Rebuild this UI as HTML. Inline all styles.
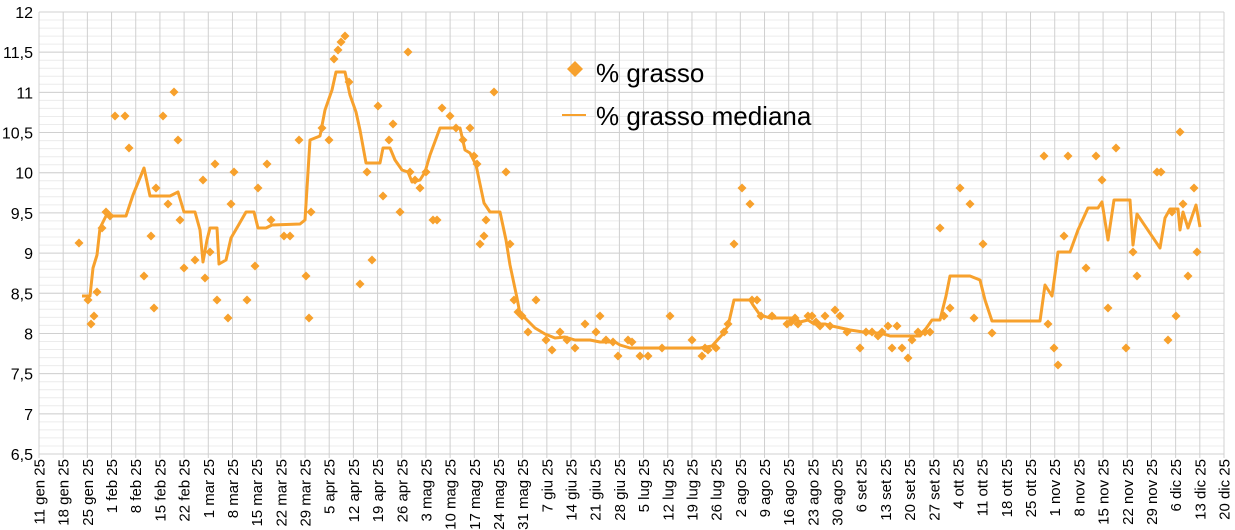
<!DOCTYPE html>
<html><head><meta charset="utf-8"><style>
html,body{margin:0;padding:0;background:#fff;}
svg{display:block;font-family:"Liberation Sans",Arial,sans-serif;}
</style></head><body>
<svg width="1235" height="530" viewBox="0 0 1235 530" xmlns="http://www.w3.org/2000/svg">
<g id="minor" stroke="#ececec" stroke-width="1"></g>
<g id="major" stroke="#d0d0d0" stroke-width="1"></g>
<g id="ylab" font-size="16" fill="#000" text-anchor="end"></g>
<g id="xlab" font-size="15" fill="#000"></g>
<polyline fill="none" stroke="#f7a12d" stroke-width="3" stroke-linejoin="round" points="82,296 90,296 93,268 97,255 100,228 106,216 112,216 126,216 133,195 144,168 150,196 160,196 170,196 178,192 184,212 195,212 200,230 203,262 207,240 210,228 217,228 219,264 226,260 231,238 238,226 246,212 254,212 258,228 266,228 272,225 300,224 305,220 310,140 320,136 325,110 332,90 336,72 345,72 350,95 356,112 360,130 366,163 374,163 380,163 383,148 390,148 395,160 402,170 408,172 412,182 420,180 425,172 430,155 440,128 460,128 465,150 470,153 476,165 484,203 490,212 500,212 506,240 510,265 517,298 520,314 525,318 535,328 545,334 555,338 565,337 575,340 590,340 600,342 615,342 620,345 630,348 700,348 712,346 722,335 728,326 734,300 750,300 753,305 760,315 770,318 795,318 800,322 808,320 814,324 825,324 832,326 850,330 870,333 880,333 890,336 920,336 925,330 932,320 940,320 946,296 950,276 970,276 980,280 985,300 992,321 1040,321 1045,285 1052,296 1058,252 1070,252 1078,230 1088,208 1098,208 1102,202 1108,240 1114,200 1130,200 1133,245 1137,214 1160,248 1165,218 1170,209 1178,209 1180,230 1183,212 1188,228 1196,205 1200,227"/>
<g id="pts" fill="#f7a12d"></g>
<path d="M575,61 l8,8 l-8,8 l-8,-8z" fill="#f7a12d"/>
<text x="596" y="82" font-size="26" fill="#000">% grasso</text>
<line x1="562" y1="115" x2="586" y2="115" stroke="#f7a12d" stroke-width="2"/>
<text x="596" y="125" font-size="26" fill="#000">% grasso mediana</text>
</svg>
<script>
const NS="http://www.w3.org/2000/svg";
function el(p,t,a,txt){const e=document.createElementNS(NS,t);for(const k in a)e.setAttribute(k,a[k]);if(txt)e.textContent=txt;document.getElementById(p).appendChild(e);}
const L=39,R=1224,T=12,B=454;
function Y(v){return B-(v-6.5)*(B-T)/5.5;}
for(let v=6.5;v<=12.001;v+=0.1){const y=Y(v).toFixed(1);el("minor","line",{x1:L,x2:R,y1:y,y2:y});}
for(let i=0;i<=11;i++){const v=6.5+i*0.5,y=Y(v);el("major","line",{x1:L,x2:R,y1:y,y2:y});el("ylab","text",{x:33,y:y+6},String(v).replace('.',','));}
const labs=["11 gen 25","18 gen 25","25 gen 25","1 feb 25","8 feb 25","15 feb 25","22 feb 25","1 mar 25","8 mar 25","15 mar 25","22 mar 25","29 mar 25","5 apr 25","12 apr 25","19 apr 25","26 apr 25","3 mag 25","10 mag 25","17 mag 25","24 mag 25","31 mag 25","7 giu 25","14 giu 25","21 giu 25","28 giu 25","5 lug 25","12 lug 25","19 lug 25","26 lug 25","2 ago 25","9 ago 25","16 ago 25","23 ago 25","30 ago 25","6 set 25","13 set 25","20 set 25","27 set 25","4 ott 25","11 ott 25","18 ott 25","25 ott 25","1 nov 25","8 nov 25","15 nov 25","22 nov 25","29 nov 25","6 dic 25","13 dic 25","20 dic 25"];
const step=(R-L)/49;
labs.forEach((s,i)=>{const x=L+i*step;el("major","line",{x1:x,x2:x,y1:T,y2:B+4});el("xlab","text",{transform:`translate(${x+5.5},${B+5}) rotate(-90)`,"text-anchor":"end"},s);});
const P=[[79,243],[88,300],[91,324],[94,316],[97,292],[102,228],[106,212],[110,216],[115,116],[125,116],[129,148],[144,276],[151,236],[154,308],[156,188],[163,116],[168,204],[174,92],[178,140],[180,220],[184,268],[195,260],[203,180],[205,278],[210,252],[215,164],[217,300],[228,318],[231,204],[234,172],[247,300],[255,266],[258,188],[267,164],[271,220],[284,236],[290,236],[299,140],[306,276],[309,318],[311,212],[322,128],[329,140],[334,59],[338,50],[341,42],[345,36],[349,82],[360,284],[367,172],[372,260],[378,106],[383,196],[389,140],[393,124],[400,212],[408,52],[410,172],[415,180],[420,188],[426,172],[433,220],[437,220],[442,108],[450,116],[456,128],[470,128],[463,140],[474,156],[477,164],[480,244],[484,236],[486,220],[494,92],[506,172],[510,244],[514,300],[518,312],[522,316],[528,332],[536,300],[546,340],[552,350],[560,332],[567,340],[575,348],[585,324],[596,332],[600,316],[606,340],[613,342],[618,356],[628,340],[632,342],[640,356],[648,356],[662,348],[670,316],[692,340],[702,356],[705,348],[708,350],[716,348],[724,332],[728,324],[734,244],[742,188],[750,204],[752,300],[757,300],[761,316],[772,316],[787,324],[791,322],[795,318],[798,324],[808,316],[812,316],[816,322],[820,326],[825,316],[830,326],[835,310],[840,316],[847,332],[860,348],[866,332],[872,332],[878,336],[882,332],[888,326],[892,348],[897,326],[902,348],[908,358],[912,340],[918,332],[925,332],[930,332],[940,228],[944,316],[950,308],[960,188],[970,204],[974,318],[983,244],[992,333],[1044,156],[1048,324],[1054,348],[1058,365],[1064,236],[1068,156],[1086,268],[1096,156],[1102,180],[1108,308],[1116,148],[1126,348],[1133,252],[1137,276],[1157,172],[1161,172],[1168,340],[1172,212],[1176,316],[1180,132],[1183,204],[1188,276],[1194,188],[1197,252]];
P.forEach(([x,y])=>el("pts","path",{d:`M${x},${y-4.5} l4.5,4.5 l-4.5,4.5 l-4.5,-4.5z`}));
</script>
</body></html>
